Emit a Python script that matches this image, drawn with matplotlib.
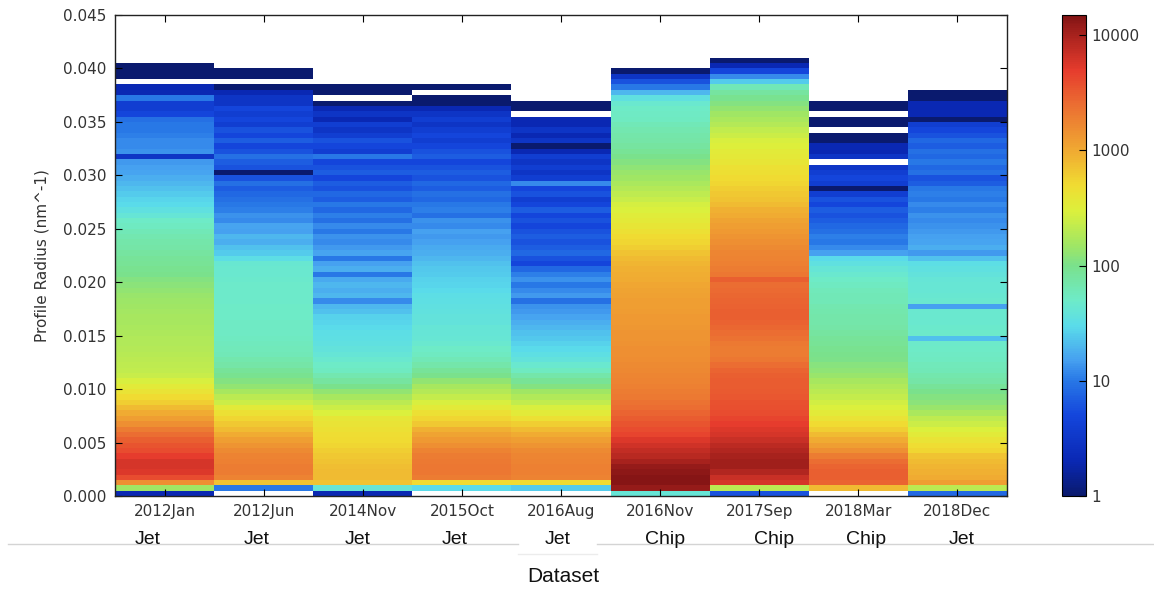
import numpy as np
import matplotlib
matplotlib.use("Agg")
import matplotlib.pyplot as plt
from matplotlib.colors import LogNorm, LinearSegmentedColormap
from matplotlib.lines import Line2D

# Histogram counts per profile-radius bin (bin 0 starts at r = 0), one list per dataset
RADIUS_STEP = 0.0005

counts_2012jan = [
    2, 150, 1500, 4000, 5500, 6000, 6000, 5000, 4000, 3500,
    3000, 2500, 2000, 1500, 1200, 1000, 800, 600, 500, 420,
    350, 280, 240, 220, 210, 200, 195, 190, 185, 180,
    175, 170, 165, 160, 155, 150, 145, 140, 130, 120,
    110, 100, 95, 90, 85, 80, 75, 70, 65, 60,
    55, 50, 40, 35, 30, 28, 25, 22, 20, 18,
    16, 15, 14, 3, 13, 12, 12, 11, 10, 10,
    9, 5, 4, 4, 10, 2, 2, 0, 1, 1,
    1]
counts_2012jun = [
    0, 10, 700, 1800, 2000, 2000, 1900, 1800, 1600, 1400,
    1200, 1000, 800, 650, 550, 450, 350, 250, 200, 160,
    130, 110, 95, 85, 75, 68, 62, 58, 56, 54,
    53, 52, 52, 51, 50, 50, 49, 49, 48, 48,
    47, 46, 45, 44, 32, 25, 22, 18, 20, 15,
    16, 12, 13, 11, 10, 9, 8, 7, 9, 6,
    1, 6, 7, 9, 6, 5, 7, 5, 6, 4,
    5, 4, 5, 3, 3, 2, 1, 0, 1, 1]
counts_2014nov = [
    2, 40, 700, 800, 800, 750, 700, 650, 600, 550,
    500, 480, 450, 420, 380, 300, 250, 200, 160, 130,
    100, 80, 65, 55, 50, 45, 40, 38, 35, 33,
    32, 30, 28, 27, 22, 20, 12, 20, 18, 20,
    17, 10, 18, 15, 10, 16, 14, 12, 13, 10,
    12, 9, 11, 8, 10, 7, 8, 6, 7, 5,
    7, 6, 5, 10, 4, 5, 6, 4, 3, 4,
    2, 3, 2, 1, 0, 1, 1]
counts_2015oct = [
    0, 30, 500, 2000, 2200, 2200, 2100, 2000, 1800, 1500,
    1300, 1100, 900, 650, 550, 450, 350, 280, 230, 190,
    160, 130, 100, 85, 70, 60, 55, 50, 45, 42,
    40, 40, 38, 37, 36, 35, 34, 32, 30, 28,
    27, 25, 24, 22, 20, 18, 17, 15, 14, 15,
    12, 13, 9, 11, 10, 8, 9, 7, 8, 6,
    7, 6, 5, 7, 6, 5, 4, 5, 4, 3,
    4, 3, 2, 1, 1, 0, 1]
counts_2016aug = [
    0, 25, 500, 1800, 1900, 1900, 1800, 1700, 1600, 1400,
    1200, 1000, 800, 600, 450, 350, 280, 220, 180, 150,
    110, 90, 70, 55, 45, 38, 33, 30, 27, 24,
    22, 20, 18, 16, 14, 13, 9, 14, 12, 10,
    13, 11, 8, 5, 6, 8, 7, 6, 7, 6,
    5, 6, 5, 7, 5, 4, 6, 5, 12, 4,
    3, 4, 3, 4, 2, 1, 3, 2, 3, 2,
    2, 0, 1, 1]
counts_2016nov = [
    40, 12000, 14000, 14000, 13000, 12000, 10000, 8500, 7500, 6500,
    5500, 4500, 4000, 3500, 3200, 2800, 2500, 2300, 2100, 2000,
    1900, 1800, 1700, 1650, 1600, 1550, 1500, 1500, 1450, 1400,
    1400, 1350, 1300, 1300, 1250, 1200, 1200, 1150, 1100, 1050,
    1000, 950, 900, 850, 800, 700, 600, 550, 500, 450,
    400, 360, 330, 300, 270, 240, 210, 190, 170, 150,
    140, 125, 110, 100, 90, 80, 75, 70, 65, 60,
    55, 52, 50, 45, 35, 20, 10, 6, 3, 1]
counts_2017sep = [
    6, 200, 6000, 7000, 9000, 11000, 11000, 10000, 9000, 8000,
    7000, 6000, 5500, 5000, 4500, 4000, 3800, 3600, 3400, 3300,
    3200, 3100, 3000, 2800, 2500, 2200, 2000, 2000, 2100, 2300,
    2500, 2700, 2900, 3000, 3000, 2900, 2800, 2700, 2600, 2500,
    3000, 2200, 2000, 1900, 1800, 1700, 1600, 1500, 1400, 1300,
    1200, 1100, 1000, 900, 800, 700, 650, 600, 550, 500,
    470, 440, 400, 370, 340, 310, 280, 250, 220, 190,
    170, 150, 130, 110, 95, 80, 60, 25, 12, 5,
    2, 1]
counts_2018mar = [
    0, 800, 2800, 3000, 3000, 2800, 2500, 2000, 1500, 1200,
    1000, 800, 600, 500, 420, 350, 300, 260, 230, 200,
    180, 160, 140, 125, 115, 105, 100, 95, 90, 85,
    80, 75, 72, 70, 68, 65, 62, 60, 58, 55,
    50, 45, 40, 35, 30, 15, 12, 10, 11, 9,
    8, 7, 6, 7, 5, 6, 4, 1, 4, 5,
    4, 3, 0, 3, 2, 2, 1, 1, 0, 1,
    1, 0, 1, 1]
counts_2018dec = [
    8, 200, 1200, 1000, 900, 850, 800, 700, 550, 480,
    420, 350, 300, 250, 210, 170, 140, 120, 110, 100,
    85, 75, 68, 62, 58, 55, 52, 50, 48, 22,
    48, 47, 46, 46, 45, 15, 45, 44, 42, 42,
    40, 38, 35, 32, 22, 14, 18, 16, 15, 14,
    13, 12, 13, 11, 12, 10, 11, 10, 7, 6,
    9, 8, 10, 8, 9, 7, 8, 6, 5, 4,
    1, 2, 2, 2, 1, 1]

dataset_names = ["2012Jan", "2012Jun", "2014Nov", "2015Oct", "2016Aug",
                 "2016Nov", "2017Sep", "2018Mar", "2018Dec"]
dataset_sources = ["Jet", "Jet", "Jet", "Jet", "Jet", "Chip", "Chip", "Chip", "Jet"]
columns = [counts_2012jan, counts_2012jun, counts_2014nov, counts_2015oct,
           counts_2016aug, counts_2016nov, counts_2017sep, counts_2018mar,
           counts_2018dec]

# hand-placed source labels under the axis (figure pixel x)
source_x_px = [148, 257, 358, 455, 558, 665, 774, 866, 962]

VMIN, VMAX = 1, 15000

# softened jet: (count, colour) anchors along the log scale
cmap_anchors = [
    (1, "#0a1a6e"), (2, "#0a28b4"), (5, "#1446dc"), (10, "#2878e6"),
    (15, "#46a0f0"), (30, "#5adcea"), (50, "#6eebc8"), (100, "#7ae18c"),
    (150, "#a0e664"), (300, "#dcf03c"), (500, "#f0dc32"), (1000, "#f0aa32"),
    (2500, "#eb6e32"), (5000, "#e63c2d"), (10000, "#aa231e"), (15000, "#821414"),
]
lv = np.log10([c for c, _ in cmap_anchors]) / np.log10(VMAX)
soft_jet = LinearSegmentedColormap.from_list(
    "soft_jet", list(zip(lv, [col for _, col in cmap_anchors])))

W, H = 1154, 590
fig = plt.figure(figsize=(W / 100, H / 100), dpi=100)
ax = fig.add_axes([115 / W, 1 - 496 / H, 892 / W, 481 / H])
cax = fig.add_axes([1062 / W, 1 - 496 / H, 24 / W, 481 / H])

nbins = int(round(0.045 / RADIUS_STEP))
grid = np.zeros((nbins, len(columns)))
for j, col in enumerate(columns):
    grid[:len(col), j] = col
grid = np.ma.masked_less_equal(grid, 0)

x_edges = np.arange(len(columns) + 1)
y_edges = np.arange(nbins + 1) * RADIUS_STEP
norm = LogNorm(vmin=VMIN, vmax=VMAX)
mesh = ax.pcolormesh(x_edges, y_edges, grid, cmap=soft_jet, norm=norm,
                     shading="flat", rasterized=True)

ax.set_xlim(0, len(columns))
ax.set_ylim(0, 0.045)
ax.set_xticks(np.arange(len(columns)) + 0.5)
ax.set_xticklabels(dataset_names)
yt = np.arange(0, 0.0451, 0.005)
ax.set_yticks(yt)
ax.set_yticklabels([f"{v:.3f}" for v in yt])
ax.tick_params(direction="in", top=True, right=True, length=5, width=0.8,
               labelsize=11, labelcolor="#333333", pad=6)
ax.set_ylabel("Profile Radius (nm^-1)", fontsize=11, color="#333333", labelpad=10)
for s in ax.spines.values():
    s.set_linewidth(1.0)
    s.set_color("#222222")

cb = fig.colorbar(mesh, cax=cax, ticks=[1, 10, 100, 1000, 10000])
cb.ax.set_yticklabels(["1", "10", "100", "1000", "10000"])
cb.ax.minorticks_off()
cb.ax.tick_params(direction="in", length=5, width=0.8, labelsize=11,
                  labelcolor="#333333", pad=4)
cb.outline.set_linewidth(0.8)

for name, xp in zip(dataset_sources, source_x_px):
    fig.text(xp / W, 1 - 540 / H, name, ha="center", va="center",
             fontsize=14, family="Liberation Sans", color="#111111")

# divider line with a small tab under the middle label
line_kw = dict(color="#d4d4d4", linewidth=1.0, transform=fig.transFigure)
fig.add_artist(Line2D([8 / W, 518 / W], [1 - 544 / H] * 2, **line_kw))
fig.add_artist(Line2D([597 / W, 1.0], [1 - 544 / H] * 2, **line_kw))
fig.add_artist(Line2D([518 / W, 597 / W], [1 - 554 / H] * 2,
                      color="#ececec", linewidth=1.0, transform=fig.transFigure))

fig.text(563 / W, 1 - 576 / H, "Dataset", ha="center", va="center",
         fontsize=15, family="Liberation Sans", color="#111111")

fig.savefig("out.png", dpi=100)
